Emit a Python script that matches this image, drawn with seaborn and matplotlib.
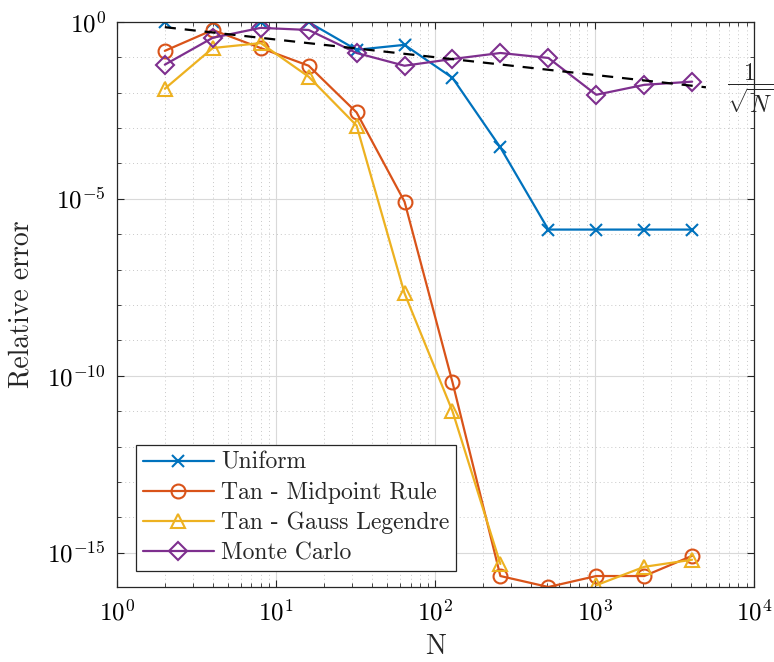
import numpy as np
import pandas as pd
import matplotlib
matplotlib.use("Agg")
import matplotlib.pyplot as plt
import matplotlib.ticker as mticker
import seaborn as sns

# ---- data (log10 of relative error) ----
N = [2, 4, 8, 16, 32, 64, 128, 256, 512, 1024, 2048, 4096]
log_uniform = [0.0, 0.0, 0.0, -0.01, -0.79, -0.65, -1.58, -3.55, -5.87, -5.87, -5.87, -5.87]
log_midpoint = [-0.82, -0.23, -0.74, -1.24, -2.56, -5.08, -10.18, -15.66, -15.97, -15.66, -15.66, -15.09]
log_gauss = [-1.89, -0.74, -0.60, -1.55, -2.93, -7.67, -11.0, -15.32, np.nan, -15.92, -15.40, -15.20]
log_monte = [-1.21, -0.45, -0.17, -0.23, -0.88, -1.24, -1.05, -0.88, -1.02, -2.06, -1.78, -1.69]
ref_N = [2, 5000]
labels = ["Uniform", "Tan - Midpoint Rule", "Tan - Gauss Legendre", "Monte Carlo"]
colors = ["#0072BD", "#D95319", "#EDB120", "#7E2F8E"]
markers = ["x", "o", "^", "D"]
msizes = [8, 10, 10, 9]

sns.set_style("ticks")
plt.rcParams["font.family"] = ["cmr10", "DejaVu Sans"]
plt.rcParams["mathtext.fontset"] = "cm"
plt.rcParams["axes.formatter.use_mathtext"] = True

fig = plt.figure(figsize=(7.74, 6.62), dpi=100)
ax = fig.add_axes([0.151, 0.1133, 0.823, 0.8537])

series = [log_uniform, log_midpoint, log_gauss, log_monte]
for vals, lab, c, m, ms in zip(series, labels, colors, markers, msizes):
    y = 10.0 ** np.array(vals, dtype=float)
    x = np.array(N, dtype=float)
    ok = ~np.isnan(y)
    seg_ids = np.cumsum(~ok)
    first = True
    for sid in np.unique(seg_ids[ok]):
        sel = ok & (seg_ids == sid)
        sns.lineplot(x=x[sel], y=y[sel], ax=ax, color=c, marker=m, markersize=ms,
                     markerfacecolor="none", markeredgecolor=c, markeredgewidth=1.5,
                     linewidth=1.6, label=lab if first else None, sort=False,
                     estimator=None, errorbar=None)
        first = False

ref_x = np.array(ref_N, dtype=float)
ax.plot(ref_x, 1 / np.sqrt(ref_x), "k--", linewidth=1.6, dashes=(5, 4))

ax.set_xscale("log")
ax.set_yscale("log")
ax.set_xlim(1, 1e4)
ax.set_ylim(10 ** min(log_midpoint), 1)

ax.xaxis.set_major_locator(mticker.LogLocator(base=10, numticks=10))
ax.xaxis.set_minor_locator(mticker.LogLocator(base=10, subs=np.arange(2, 10), numticks=20))
ax.xaxis.set_minor_formatter(mticker.NullFormatter())
ax.yaxis.set_major_locator(mticker.FixedLocator([1e0, 1e-5, 1e-10, 1e-15]))
ax.yaxis.set_major_formatter(mticker.LogFormatterMathtext())
ax.yaxis.set_minor_locator(mticker.FixedLocator([10.0 ** k for k in range(-17, 1)]))
ax.yaxis.set_minor_formatter(mticker.NullFormatter())

ax.grid(True, which="major", color="#d9d9d9", linewidth=0.8, linestyle="-")
ax.grid(True, which="minor", color="#c8c8c8", linewidth=0.7, linestyle=(0, (1, 3)))
ax.set_axisbelow(True)

ax.tick_params(which="both", direction="in", top=True, right=True, colors="#262626",
               labelcolor="black", labelsize=18)
ax.tick_params(which="major", length=5, width=0.8)
ax.tick_params(axis="x", which="major", pad=9)
ax.tick_params(axis="y", which="major", pad=8)
ax.tick_params(which="minor", length=3, width=0.6)
for s in ax.spines.values():
    s.set_color("#262626")
    s.set_linewidth(0.9)
    s.set_visible(True)

ax.set_xlabel("N", fontsize=20, labelpad=6)
ax.set_ylabel("Relative error", fontsize=20, labelpad=9)

ax.text(9420, 10 ** -1.86, r"$\dfrac{1}{\sqrt{N}}$", fontsize=17, ha="center", va="center",
        clip_on=False)

leg = ax.legend(loc="lower left", bbox_to_anchor=(0.03, 0.028), borderaxespad=0,
                fontsize=17, frameon=True, fancybox=False, framealpha=1,
                edgecolor="#262626", handlelength=3.0, handletextpad=0.3,
                labelspacing=0.33, borderpad=0.3)
leg.get_frame().set_linewidth(0.9)

fig.savefig("out.png", dpi=100)
